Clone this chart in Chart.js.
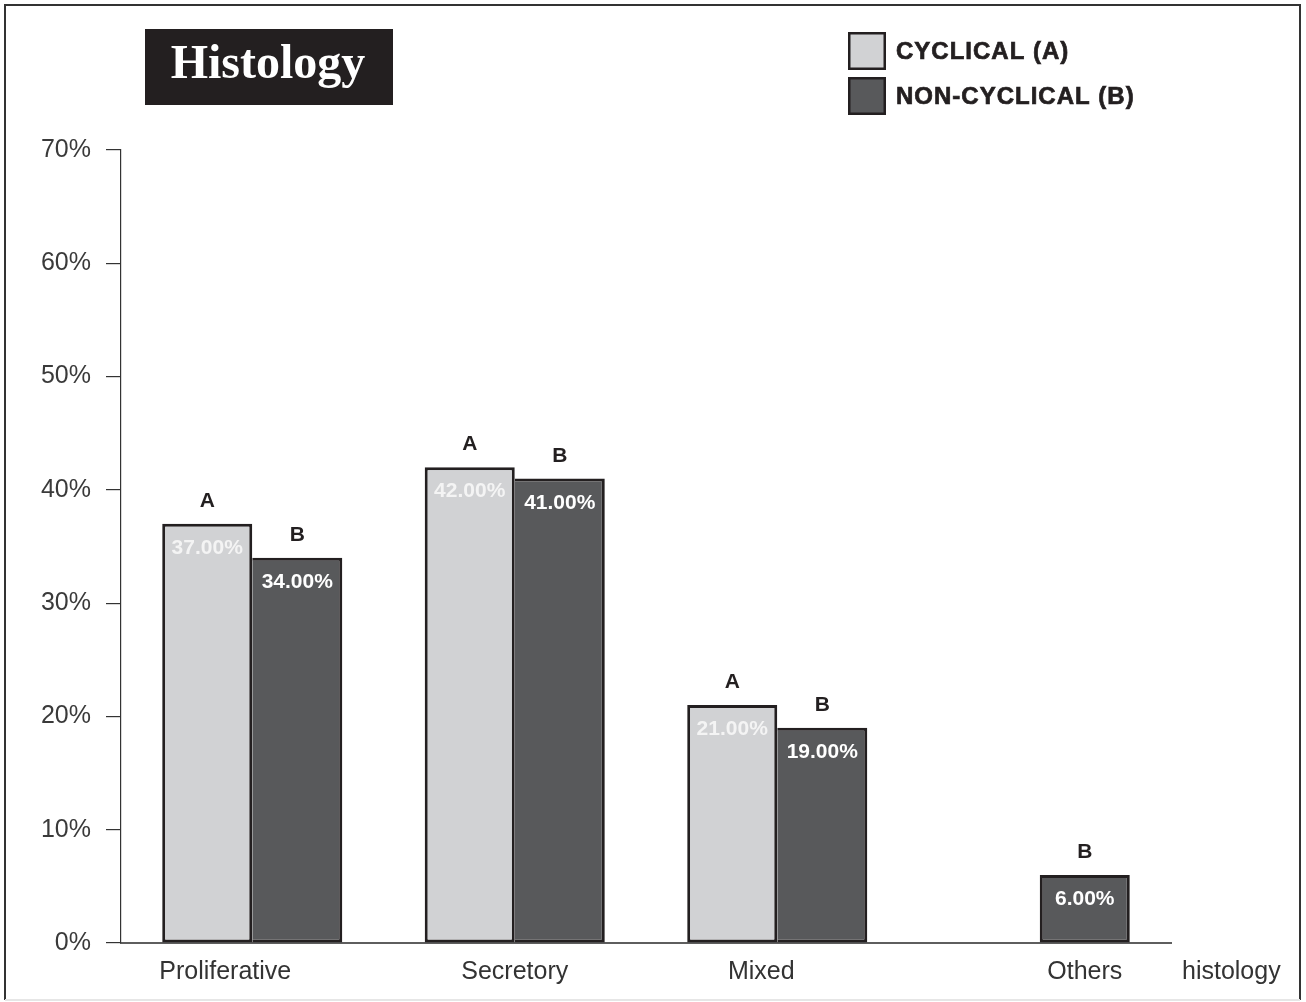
<!DOCTYPE html>
<html>
<head>
<meta charset="utf-8">
<title>Histology</title>
<script src="https://cdn.jsdelivr.net/npm/chart.js@4.4.1/dist/chart.umd.min.js"></script>
<style>
  html, body { margin: 0; padding: 0; background: #ffffff; }
  #wrap { width: 1306px; height: 1002px; position: relative; }
  canvas { display: block; }
</style>
</head>
<body>
<div id="wrap"><canvas id="chart" width="1306" height="1002"></canvas></div>
<script>
// ---- data ----
const categories = ['Proliferative', 'Secretory', 'Mixed', 'Others'];
const cyclical = [37, 42, 21, null];
const nonCyclical = [34, 41, 19, 6];
const yTickValues = [0, 10, 20, 30, 40, 50, 60, 70];
const seriesNames = ['CYCLICAL (A)', 'NON-CYCLICAL (B)'];
const seriesTags = ['A', 'B'];
const chartTitle = 'Histology';
const axisName = 'histology';

// ---- styling ----
const INK = '#231f20';
const LIGHT = '#d1d2d4';
const DARK = '#58595b';
const SANS = '"Liberation Sans", Arial, Helvetica, sans-serif';
const SERIF = '"Liberation Serif", "Times New Roman", serif';

// white page with a thin frame
const framePlugin = {
  id: 'frame',
  beforeDraw(chart) {
    const ctx = chart.ctx;
    ctx.save();
    ctx.fillStyle = '#ffffff';
    ctx.fillRect(0, 0, chart.width, chart.height);
    ctx.strokeStyle = '#333333';
    ctx.lineWidth = 2;
    ctx.beginPath();
    ctx.moveTo(5, 1000);
    ctx.lineTo(5, 5);
    ctx.lineTo(1300, 5);
    ctx.lineTo(1300, 1000);
    ctx.stroke();
    ctx.strokeStyle = '#e6e6e6';
    ctx.beginPath();
    ctx.moveTo(5, 1000);
    ctx.lineTo(1300, 1000);
    ctx.stroke();
    ctx.restore();
  }
};

// title block and legend
const headerPlugin = {
  id: 'header',
  afterDraw(chart) {
    const ctx = chart.ctx;
    ctx.save();
    // title box
    ctx.fillStyle = INK;
    ctx.fillRect(145, 29, 248, 76);
    ctx.fillStyle = '#ffffff';
    ctx.font = 'bold 48px ' + SERIF;
    ctx.textAlign = 'center';
    ctx.textBaseline = 'alphabetic';
    ctx.fillText(chartTitle, 268, 78);

    // legend: swatch + heavy caption per series
    chart.data.datasets.forEach((ds, i) => {
      const top = 32 + i * 45;
      ctx.fillStyle = ds.backgroundColor;
      ctx.fillRect(848, top, 38, 38);
      ctx.strokeStyle = INK;
      ctx.lineWidth = 2.5;
      ctx.strokeRect(849.25, top + 1.25, 35.5, 35.5);
      ctx.fillStyle = INK;
      ctx.font = 'bold 24px ' + SANS;
      ctx.textAlign = 'left';
      ctx.textBaseline = 'alphabetic';
      if ('letterSpacing' in ctx) ctx.letterSpacing = '1px';
      ctx.fillText(ds.label, 896, top + 27);
      ctx.lineWidth = 0.7;
      ctx.strokeText(ds.label, 896, top + 27);
      if ('letterSpacing' in ctx) ctx.letterSpacing = '0px';
    });
    ctx.restore();
  }
};

// series tag above each bar and value inside its top
const barTagPlugin = {
  id: 'barTags',
  afterDatasetsDraw(chart, args, opts) {
    const ctx = chart.ctx;
    chart.data.datasets.forEach((ds, di) => {
      const meta = chart.getDatasetMeta(di);
      meta.data.forEach((bar, i) => {
        const v = ds.data[i];
        if (v === null || v === undefined) return;
        ctx.save();
        ctx.font = 'bold 21px ' + SANS;
        ctx.textAlign = 'center';
        ctx.textBaseline = 'alphabetic';
        ctx.fillStyle = INK;
        ctx.fillText(seriesTags[di], bar.x, bar.y - 17);
        ctx.fillStyle = opts.valueColors[di];
        ctx.fillText(v.toFixed(2) + '%', bar.x, bar.y + 30);
        ctx.restore();
      });
    });
  }
};

// category names under the axis, plus the axis name at the right
const categoryLabelPlugin = {
  id: 'categoryLabels',
  afterDraw(chart, args, opts) {
    const ctx = chart.ctx;
    const x = chart.scales.x;
    ctx.save();
    ctx.font = '25px ' + SANS;
    ctx.fillStyle = '#333333';
    ctx.textBaseline = 'alphabetic';
    ctx.textAlign = 'center';
    categories.forEach((name, i) => {
      ctx.fillText(name, x.getPixelForValue(i) + opts.shift[i], 979);
    });
    ctx.textAlign = 'left';
    ctx.fillText(axisName, x.right + 11, 979);
    ctx.restore();
  }
};

new Chart(document.getElementById('chart'), {
  type: 'bar',
  data: {
    labels: categories,
    datasets: [
      {
        label: seriesNames[0],
        data: cyclical,
        backgroundColor: LIGHT,
        borderColor: INK,
        borderSkipped: false,
        borderWidth: 3
      },
      {
        label: seriesNames[1],
        data: nonCyclical,
        backgroundColor: DARK,
        borderColor: INK,
        borderSkipped: false,
        borderWidth: (c) => {
          const alone = cyclical[c.dataIndex] === null;
          return { top: 3, right: 3, bottom: 3, left: alone ? 3 : 0 };
        }
      }
    ]
  },
  options: {
    responsive: false,
    animation: false,
    layout: { padding: { top: 150, right: 135, bottom: 0, left: 0 } },
    categoryPercentage: 0.686,
    barPercentage: 1.0,
    plugins: {
      legend: { display: false },
      title: { display: false },
      tooltip: { enabled: false },
      barTags: { valueColors: ['#f4f4f4', '#ffffff'] },
      categoryLabels: { shift: [-27, 0, -16, 45] }
    },
    scales: {
      x: {
        offset: true,
        grid: { display: false },
        border: { display: true, color: '#5e5e5e', width: 2 },
        ticks: { display: false },
        afterFit: (s) => { s.height = 59; }
      },
      y: {
        min: 0,
        max: 70,
        afterBuildTicks: (s) => { s.ticks = yTickValues.map(v => ({ value: v })); },
        grid: {
          drawOnChartArea: false,
          drawTicks: true,
          tickLength: 15,
          color: '#333333',
          lineWidth: 1.2
        },
        border: { display: true, color: '#333333', width: 1.2 },
        ticks: {
          padding: 15,
          color: '#3a3a3a',
          font: { family: SANS, size: 25 },
          callback: (v) => v + '%'
        },
        afterFit: (s) => { s.width = 121; }
      }
    }
  },
  plugins: [framePlugin, headerPlugin, barTagPlugin, categoryLabelPlugin]
});
</script>
</body>
</html>
